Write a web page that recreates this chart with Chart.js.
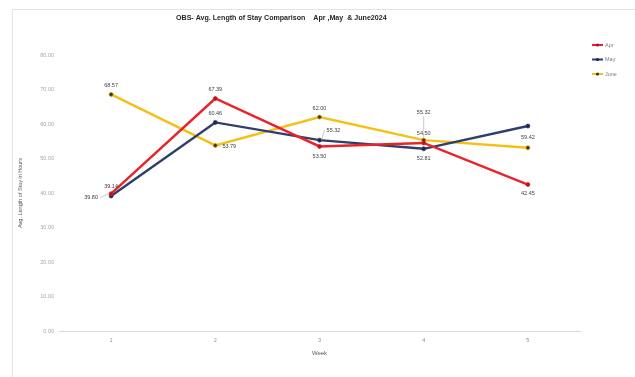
<!DOCTYPE html>
<html>
<head>
<meta charset="utf-8">
<script src="https://cdn.jsdelivr.net/npm/chart.js@4"></script>
<style>
  html, body { margin: 0; padding: 0; background: #fff; }
  #wrap { position: absolute; left: 0; top: 0; width: 635px; height: 377px; }
</style>
</head>
<body>
<div id="wrap"><canvas id="c" width="635" height="377"></canvas></div>
<script>
// Weekly average length of stay (hours) per month
const weeks = ['1', '2', '3', '4', '5'];
const aprValues = [39.80, 67.39, 53.50, 54.50, 42.45];
const mayValues = [39.14, 60.46, 55.32, 52.81, 59.42];
const juneValues = [68.57, 53.79, 62.00, 55.32, 53.10];
const seriesNames = ['Apr', 'May', 'June'];
const yTicks = [0, 10, 20, 30, 40, 50, 60, 70, 80];

// label placement per point: [dx, dy, leader line?]; null = no label
const labelPlacement = [
  [[-20, 4, true], [0, -9, false], [0, 10, false], [0, -9, false], [0, 9, false]],
  [[0, -9, false], [0, -9, false], [14, -10, true], [0, 10, false], [0, 11, false]],
  [[0, -9, false], [14, 1, true], [0, -9, false], [0, -28, true], null]
];

const FONT = "'Liberation Sans', Arial, sans-serif";

const labelPlugin = {
  id: 'pointLabels',
  afterDatasetsDraw(chart) {
    const ctx = chart.ctx;
    ctx.save();
    ctx.font = '5.5px ' + FONT;
    ctx.fillStyle = '#404040';
    ctx.textAlign = 'center';
    ctx.textBaseline = 'middle';
    chart.data.datasets.forEach((ds, di) => {
      const meta = chart.getDatasetMeta(di);
      meta.data.forEach((pt, i) => {
        const pl = labelPlacement[di][i];
        if (!pl) return;
        const x = pt.x + pl[0], y = pt.y + pl[1];
        if (pl[2]) {
          ctx.strokeStyle = '#a6a6a6';
          ctx.lineWidth = 0.6;
          ctx.beginPath();
          if (Math.abs(pl[0]) > Math.abs(pl[1])) {
            const ex = pl[0] < 0 ? x + 9 : x - 9;
            ctx.moveTo(ex, y);
            ctx.lineTo(pt.x + (pl[0] < 0 ? -2 : 2), pt.y);
          } else {
            ctx.moveTo(x, y + 4);
            ctx.lineTo(pt.x, pt.y - 2);
          }
          ctx.stroke();
        }
        ctx.fillText(ds.data[i].toFixed(2), x, y);
      });
    });
    ctx.restore();
  }
};

const framePlugin = {
  id: 'frame',
  beforeDraw(chart) {
    const ctx = chart.ctx;
    ctx.save();
    ctx.fillStyle = '#fff';
    ctx.fillRect(0, 0, chart.width, chart.height);
    ctx.strokeStyle = '#e3e3e3';
    ctx.lineWidth = 1;
    ctx.beginPath();
    ctx.moveTo(12.5, 377);
    ctx.lineTo(12.5, 9.5);
    ctx.lineTo(635, 9.5);
    ctx.stroke();
    ctx.restore();
  },
  afterDraw(chart) {
    const ctx = chart.ctx;
    ctx.save();
    // title
    ctx.fillStyle = '#262626';
    ctx.font = 'bold 7.1px ' + FONT;
    ctx.textAlign = 'left';
    ctx.textBaseline = 'middle';
    ctx.fillText('OBS- Avg. Length of Stay Comparison    Apr ,May  & June2024', 176, 18);
    // legend
    ctx.font = '5.5px ' + FONT;
    chart.data.datasets.forEach((ds, i) => {
      const y = 45 + i * 14.5;
      ctx.strokeStyle = ds.borderColor;
      ctx.lineWidth = 2;
      ctx.beginPath();
      ctx.moveTo(592, y);
      ctx.lineTo(603, y);
      ctx.stroke();
      ctx.fillStyle = ds.pointBackgroundColor;
      ctx.beginPath();
      ctx.arc(597.5, y, 1.6, 0, Math.PI * 2);
      ctx.fill();
      ctx.fillStyle = '#7f7f7f';
      ctx.fillText(ds.label, 605, y);
    });
    ctx.restore();
  }
};

new Chart(document.getElementById('c'), {
  type: 'line',
  data: {
    labels: weeks,
    datasets: [
      { label: seriesNames[0], data: aprValues, borderColor: '#e8232a', pointBackgroundColor: '#b0141a', pointBorderColor: '#e8232a' },
      { label: seriesNames[1], data: mayValues, borderColor: '#2f3e6b', pointBackgroundColor: '#1c2648', pointBorderColor: '#2f3e6b' },
      { label: seriesNames[2], data: juneValues, borderColor: '#f5c016', pointBackgroundColor: '#3a3410', pointBorderColor: '#c99a10' }
    ].map(d => Object.assign(d, { borderWidth: 2.4, pointRadius: 2, pointBorderWidth: 0.8, tension: 0, fill: false }))
  },
  options: {
    responsive: false,
    animation: false,
    devicePixelRatio: 1,
    layout: { padding: { left: 0, right: 55, top: 55, bottom: 0 } },
    plugins: { legend: { display: false }, title: { display: false }, tooltip: { enabled: false } },
    scales: {
      x: {
        offset: true,
        grid: { display: false, drawTicks: false },
        border: { display: true, color: '#d9d9d9', width: 1 },
        ticks: { color: '#8c8c8c', font: { size: 5.5, family: FONT }, padding: 6 },
        title: { display: true, text: 'Week', color: '#595959', font: { size: 6, family: FONT }, padding: { top: 0, bottom: 20 } },
        afterFit(scale) { scale.height = 46; }
      },
      y: {
        min: 0, max: 80,
        afterBuildTicks(scale) { scale.ticks = yTicks.map(v => ({ value: v })); },
        grid: { display: false, drawTicks: false },
        border: { display: false },
        ticks: { color: '#a6a6a6', font: { size: 5.5, family: FONT }, padding: 5, callback: v => Number(v).toFixed(2) },
        title: { display: true, text: 'Avg. Length of Stay in Hours', color: '#595959', font: { size: 5.5, family: FONT }, padding: { top: 17, bottom: 0 } },
        afterFit(scale) { scale.width = 59; }
      }
    }
  },
  plugins: [framePlugin, labelPlugin]
});
</script>
</body>
</html>
